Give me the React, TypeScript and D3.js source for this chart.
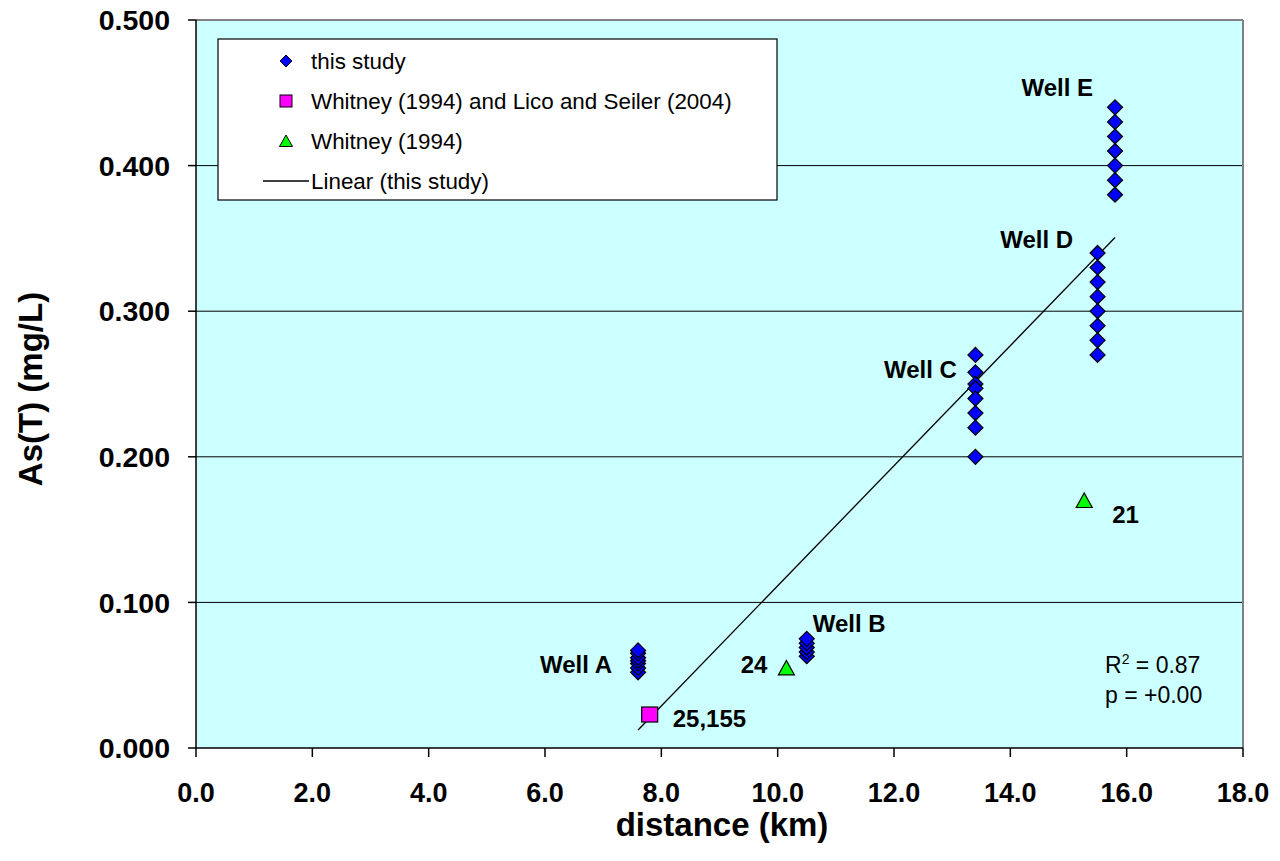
import React from "react";
import * as d3 from "d3";

// Arsenic concentration vs. distance along the flow path
const wellA = [0.052, 0.055, 0.058, 0.060, 0.062, 0.065, 0.067];
const wellB = [0.063, 0.066, 0.069, 0.072, 0.075];
const wellC = [0.270, 0.258, 0.250, 0.247, 0.240, 0.230, 0.220, 0.200];
const wellD = [0.340, 0.330, 0.320, 0.310, 0.300, 0.290, 0.280, 0.270];
const wellE = [0.440, 0.430, 0.420, 0.410, 0.400, 0.390, 0.380];
const wellDistances = [7.6, 10.5, 13.4, 15.5, 15.8];
const wellNames = ["Well A", "Well B", "Well C", "Well D", "Well E"];

const squarePoints = [{ x: 7.8, y: 0.023, label: "25,155" }];
const trianglePoints = [
  { x: 10.15, y: 0.055, label: "24" },
  { x: 15.27, y: 0.17, label: "21" },
];
const trendLine = [
  { x: 7.6, y: 0.0124 },
  { x: 15.8, y: 0.3506 },
];

const xTicks = [0, 2, 4, 6, 8, 10, 12, 14, 16, 18];
const yTicks = [0, 0.1, 0.2, 0.3, 0.4, 0.5];
const gridValues = [0.1, 0.2, 0.3, 0.4];

const legendItems = ["this study", "Whitney (1994) and Lico and Seiler (2004)", "Whitney (1994)", "Linear (this study)"];

const W = 1280;
const H = 861;
const left = 196;
const right = 1243;
const top = 20;
const bottom = 748;

const FONT = "'Liberation Sans', Arial, Helvetica, sans-serif";

export default function App() {
  const x = d3.scaleLinear().domain([0, 18]).range([left, right]);
  const y = d3.scaleLinear().domain([0, 0.5]).range([bottom, top]);

  const wells = [wellA, wellB, wellC, wellD, wellE];
  const diamonds = wells.flatMap((vals, i) => vals.map((v) => ({ x: wellDistances[i], y: v })));

  const diamondPath = (cx: number, cy: number, r = 7.5) =>
    `M${cx},${cy - r}L${cx + r},${cy}L${cx},${cy + r}L${cx - r},${cy}Z`;
  const trianglePath = (cx: number, cy: number) =>
    `M${cx},${cy - 7.5}L${cx + 8},${cy + 7}L${cx - 8},${cy + 7}Z`;

  const line = d3
    .line<{ x: number; y: number }>()
    .x((d) => x(d.x))
    .y((d) => y(d.y));

  // well label placement relative to the top sample of each well: [anchor, dx, dy]
  const wellLabelPos: [string, number, number][] = [
    ["end", -26, 22.7],
    ["start", 6, -6.7],
    ["end", -18.5, 23.5],
    ["end", -24.5, -5.4],
    ["end", -22, -11.7],
  ];

  // point label offsets: [anchor, dx, dy]
  const triangleLabelPos: [string, number, number][] = [
    ["end", -19, 5],
    ["start", 28, 23],
  ];

  return (
    <svg width={W} height={H} style={{ display: "block", position: "absolute", left: 0, top: 0 }} fontFamily={FONT}>
      <rect x={0} y={0} width={W} height={H} fill="#ffffff" />
      <rect x={left} y={top} width={right - left} height={bottom - top} fill="#CCFFFF" />

      {gridValues.map((g) => (
        <line key={g} x1={left} x2={right} y1={y(g)} y2={y(g)} stroke="#000" strokeWidth={1} />
      ))}

      {/* plot frame */}
      <line x1={left} x2={right} y1={top} y2={top} stroke="#808080" strokeWidth={2} />
      <line x1={right} x2={right} y1={top} y2={bottom} stroke="#808080" strokeWidth={2} />
      <line x1={left} x2={left} y1={top} y2={bottom} stroke="#000" strokeWidth={1.5} />
      <line x1={left} x2={right} y1={bottom} y2={bottom} stroke="#000" strokeWidth={1.5} />

      {/* y axis ticks and labels */}
      {yTicks.map((t) => (
        <g key={t}>
          <line x1={left - 8} x2={left} y1={y(t)} y2={y(t)} stroke="#000" strokeWidth={1.5} />
          <text x={170} y={y(t)} dy="0.36em" textAnchor="end" fontSize={28.5} fontWeight="bold">
            {d3.format(".3f")(t)}
          </text>
        </g>
      ))}

      {/* x axis ticks and labels */}
      {xTicks.map((t) => (
        <g key={t}>
          <line x1={x(t)} x2={x(t)} y1={bottom} y2={bottom + 9} stroke="#000" strokeWidth={1.5} />
          <text x={x(t)} y={802} textAnchor="middle" fontSize={27} fontWeight="bold">
            {d3.format(".1f")(t)}
          </text>
        </g>
      ))}

      <text x={722} y={836} textAnchor="middle" fontSize={33} fontWeight="bold">
        distance (km)
      </text>
      <text transform={`translate(42,389) rotate(-90)`} textAnchor="middle" fontSize={33} fontWeight="bold">
        As(T) (mg/L)
      </text>

      {/* linear trend */}
      <path d={line(trendLine) || ""} fill="none" stroke="#000" strokeWidth={1.3} />

      {/* this study */}
      {diamonds.map((d, i) => (
        <path key={i} d={diamondPath(x(d.x), y(d.y))} fill="#0000FF" stroke="#000" strokeWidth={1.2} />
      ))}

      {squarePoints.map((d, i) => (
        <g key={i}>
          <rect x={x(d.x) - 8} y={y(d.y) - 7.5} width={16} height={15} fill="#FF00FF" stroke="#000" strokeWidth={1.2} />
          <text x={x(d.x) + 23} y={y(d.y) + 12.5} fontSize={24} fontWeight="bold">
            {d.label}
          </text>
        </g>
      ))}

      {trianglePoints.map((d, i) => {
        const [anchor, dx, dy] = triangleLabelPos[i];
        return (
          <g key={i}>
            <path d={trianglePath(x(d.x), y(d.y))} fill="#00FF00" stroke="#000" strokeWidth={1.2} />
            <text x={x(d.x) + dx} y={y(d.y) + dy} textAnchor={anchor as any} fontSize={24} fontWeight="bold">
              {d.label}
            </text>
          </g>
        );
      })}

      {/* well labels */}
      {wellNames.map((name, i) => {
        const [anchor, dx, dy] = wellLabelPos[i];
        const ymax = d3.max(wells[i]) as number;
        return (
          <text
            key={name}
            x={x(wellDistances[i]) + dx}
            y={y(ymax) + dy}
            textAnchor={anchor as any}
            fontSize={24}
            fontWeight="bold"
          >
            {name}
          </text>
        );
      })}

      {/* regression stats */}
      <text x={1105} y={673} fontSize={23}>
        R<tspan fontSize={14} dy={-9}>2</tspan>
        <tspan dy={9}> = 0.87</tspan>
      </text>
      <text x={1105} y={703} fontSize={23}>
        p = +0.00
      </text>

      {/* legend */}
      <rect x={218} y={39} width={559} height={161} fill="#fff" stroke="#000" strokeWidth={1.2} />
      {legendItems.map((label, i) => {
        const ly = 61 + i * 40;
        return (
          <g key={label}>
            {i === 0 && <path d={diamondPath(286, ly, 6)} fill="#0000FF" stroke="#000" strokeWidth={1} />}
            {i === 1 && <rect x={280} y={ly - 6} width={12} height={12} fill="#FF00FF" stroke="#000" strokeWidth={1} />}
            {i === 2 && <path d={`M286,${ly - 6}L292.5,${ly + 5.5}L279.5,${ly + 5.5}Z`} fill="#00FF00" stroke="#000" strokeWidth={1} />}
            {i === 3 && <line x1={263} x2={309} y1={ly} y2={ly} stroke="#000" strokeWidth={1.3} />}
            <text x={311} y={ly} dy="0.36em" fontSize={22.4}>
              {label}
            </text>
          </g>
        );
      })}
    </svg>
  );
}
